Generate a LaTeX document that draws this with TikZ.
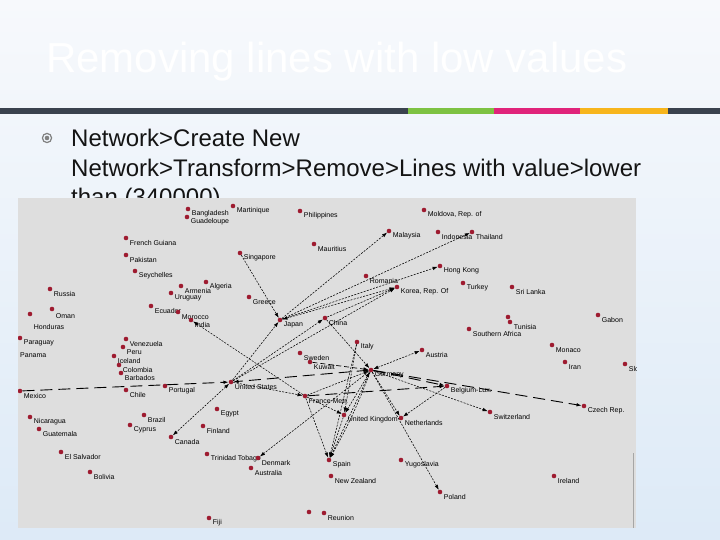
\documentclass[tikz,border=0pt]{standalone}
\usepackage{fontspec}
\setmainfont{Liberation Sans}
\usetikzlibrary{arrows.meta}
\definecolor{vred}{RGB}{158,27,48}
\definecolor{scr}{RGB}{222,222,222}
\definecolor{barc}{RGB}{58,66,78}
\definecolor{bgreen}{RGB}{125,194,66}
\definecolor{bpink}{RGB}{224,35,122}
\definecolor{borange}{RGB}{247,181,28}
\definecolor{bgtop}{RGB}{247,249,252}
\definecolor{bgbot}{RGB}{221,234,247}
\definecolor{bulg}{RGB}{128,128,128}
\newcommand\cty[4]{\node[vtx,label={[lbl]0:{#4}}] (#1) at (#2,#3) {};}
\newcommand\ctyy[5]{\node[vtx,label={[lbl,yshift=#5]0:{#4}}] (#1) at (#2,#3) {};}
\begin{document}
\begin{tikzpicture}[x=1pt,y=-1pt,
  vtx/.style={circle,fill=vred,inner sep=0pt,minimum size=4.6pt},
  lbl/.style={font=\fontsize{7}{8}\selectfont,inner sep=0pt,anchor=west,label distance=1.2pt,yshift=-5pt,text=black},
  lblonly/.style={font=\fontsize{7}{8}\selectfont,inner sep=0pt,anchor=west,text=black},
  lnk/.style={draw=black,line width=0.55pt,dash pattern=on 2pt off 1.3pt,-{Latex[length=5pt,width=3.6pt]}},
  lnkb/.style={draw=black,line width=0.55pt,dash pattern=on 2pt off 1.3pt,{Latex[length=5pt,width=3.6pt]}-{Latex[length=5pt,width=3.6pt]}},
  mid/.style={draw=black,line width=0.7pt,dash pattern=on 5pt off 3pt,-{Latex[length=5pt,width=3.6pt]}},
  heavy/.style={draw=black,line width=0.9pt,dash pattern=on 12pt off 6pt,-{Latex[length=5pt,width=3.6pt]}},
  txt/.style={anchor=base west,inner sep=0pt,font=\fontsize{24}{29}\selectfont,text={rgb,255:red,20;green,20;blue,20}}]
\useasboundingbox (0,0) rectangle (720,540);
\shade[top color=bgtop,bottom color=bgbot] (0,0) rectangle (720,540);
% title
\node[anchor=base west,inner sep=0pt,text=white,font=\fontsize{42}{48}\selectfont] (title) at (46,73) {Removing lines with low values};
% bar
\fill[barc] (0,108) rectangle (720,114);
\fill[bgreen] (408,108) rectangle (494,114);
\fill[bpink] (494,108) rectangle (580,114);
\fill[borange] (580,108) rectangle (668,114);
% bullet
\draw[bulg,line width=1.2pt] (47,138) circle (4.6);
\fill[bulg] (47,138) circle (2.3);
\node[txt] (l1) at (71,147) {Network>Create New};
\node[txt] (l2) at (71,177) {Network>Transform>Remove>Lines with value>lower};
\node[txt] (l3) at (71,206) {than (340000)};
% screenshot
\fill[scr] (18,198) rectangle (636,528);
\draw[gray!70,line width=1pt] (633,453) -- (633,528);
\begin{scope}
\clip (18,198) rectangle (636,528);
\cty{bang}{188}{209}{Bangladesh}
\cty{guad}{187}{217}{Guadeloupe}
\cty{mart}{233}{206}{Martinique}
\cty{phil}{300}{211}{Philippines}
\cty{mold}{424}{210}{Moldova, Rep. of}
\cty{frgu}{126}{238}{French Guiana}
\cty{paki}{126}{255}{Pakistan}
\cty{seyc}{135}{271}{Seychelles}
\cty{mala}{389}{231}{Malaysia}
\cty{indo}{438}{232}{Indonesia}
\cty{thai}{472}{232}{Thailand}
\cty{maur}{314}{244}{Mauritius}
\cty{sing}{240}{253}{Singapore}
\cty{hong}{440}{266}{Hong Kong}
\cty{roma}{366}{276}{Romania}
\cty{turk}{463}{283}{Turkey}
\cty{sril}{512}{287}{Sri Lanka}
\cty{kore}{397}{287}{Korea, Rep. Of}
\cty{russ}{50}{289}{Russia}
\cty{alge}{206}{282}{Algeria}
\cty{arme}{181}{286}{Armenia}
\cty{urug}{171}{293}{Uruguay}
\cty{gree}{249}{297}{Greece}
\ctyy{oman}{52}{309}{Oman}{-2pt}
\ctyy{hond}{30}{314}{Honduras}{-7.5pt}
\cty{ecua}{151}{306}{Ecuador}
\cty{moro}{178}{312}{Morocco}
\cty{indi}{191}{320}{India}
\cty{japa}{280}{320}{Japan}
\cty{chin}{325}{318}{China}
\cty{para}{20}{338}{Paraguay}
\node[lblonly] (pana) at (20,355) {Panama};
\cty{vene}{126}{339}{Venezuela}
\cty{peru}{123}{347}{Peru}
\cty{icel}{114}{356}{Iceland}
\cty{colo}{119}{365}{Colombia}
\cty{barb}{121}{373}{Barbados}
\cty{mexi}{20}{391}{Mexico}
\cty{chil}{126}{390}{Chile}
\cty{port}{165}{386}{Portugal}
\cty{braz}{144}{415}{Brazil}
\cty{cypr}{130}{425}{Cyprus}
\cty{nica}{30}{417}{Nicaragua}
\cty{guat}{39}{429}{Guatemala}
\cty{elsa}{61}{452}{El Salvador}
\cty{boli}{90}{472}{Bolivia}
\cty{cana}{171}{437}{Canada}
\cty{egyp}{217}{409}{Egypt}
\cty{finl}{203}{426}{Finland}
\cty{usa}{231}{382}{United States}
\cty{trin}{207}{454}{Trinidad Tobago}
\cty{denm}{258}{458}{Denmark}
\cty{aust}{251}{468}{Australia}
\cty{fiji}{209}{518}{Fiji}
\cty{spai}{329}{460}{Spain}
\cty{newz}{331}{476}{New Zealand}
\cty{reua}{309}{512}{}
\cty{reub}{324}{513}{Reunion}
\cty{fram}{305}{396}{France Metr.}
\cty{unki}{344}{415}{United Kingdom}
\cty{neth}{401}{418}{Netherlands}
\cty{germ}{371}{370}{Germany}
\cty{ital}{357}{342}{Italy}
\cty{swed}{300}{353}{Sweden}
\cty{kuwa}{310}{362}{Kuwait}
\cty{astr}{422}{350}{Austria}
\cty{belg}{447}{386}{Belgium-Lux.}
\cty{swit}{490}{412}{Switzerland}
\cty{czec}{584}{406}{Czech Rep.}
\cty{pola}{440}{492}{Poland}
\cty{irel}{554}{476}{Ireland}
\cty{yugo}{401}{460}{Yugoslavia}
\cty{soaf}{469}{329}{Southern Africa}
\cty{tuna}{508}{317}{}
\cty{tuni}{510}{322}{Tunisia}
\cty{gabo}{598}{315}{Gabon}
\cty{mona}{552}{345}{Monaco}
\cty{iran}{565}{362}{Iran}
\cty{slov}{625}{364}{Slovakia}
% connectors
\draw[lnk] (japa) -- (mala);
\draw[lnk] (japa) -- (thai);
\draw[lnk] (japa) -- (hong);
\draw[lnkb] (japa) -- (kore);
\draw[lnk] (chin) -- (kore);
\draw[lnk] (sing) -- (japa);
\draw[lnk] (usa) -- (japa);
\draw[lnk] (usa) -- (kore);
\draw[lnk] (usa) -- (chin);
\draw[lnk] (fram) -- (indi);
\draw[lnk] (chin) -- (germ);
\draw[mid] (kuwa) -- (germ);
\draw[lnkb] (germ) -- (astr);
\draw[lnk] (germ) -- (swit);
\draw[lnk] (germ) -- (neth);
\draw[lnk] (belg) -- (neth);
\draw[lnkb] (germ) -- (unki);
\draw[lnk] (germ) -- (spai);
\draw[lnk] (germ) to[bend left=4] (spai);
\draw[lnk] (fram) -- (spai);
\draw[lnk] (unki) -- (spai);
\draw[lnk] (ital) -- (spai);
\draw[lnk] (ital) -- (unki);
\draw[lnk] (fram) -- (unki);
\draw[lnk] (germ) -- (pola);
\draw[lnk] (germ) -- (denm);
\draw[lnkb] (usa) -- (cana);
\draw[lnk] (usa) -- (fram);
\draw[lnk] (fram) -- (germ);
\draw[heavy] (mexi) -- (usa);
\draw[heavy] (germ) -- (usa);
\draw[heavy] (fram) -- (belg);
\draw[heavy] (germ) -- (belg);
\draw[heavy] (germ) -- (czec);
\end{scope}
\end{tikzpicture}
\end{document}
